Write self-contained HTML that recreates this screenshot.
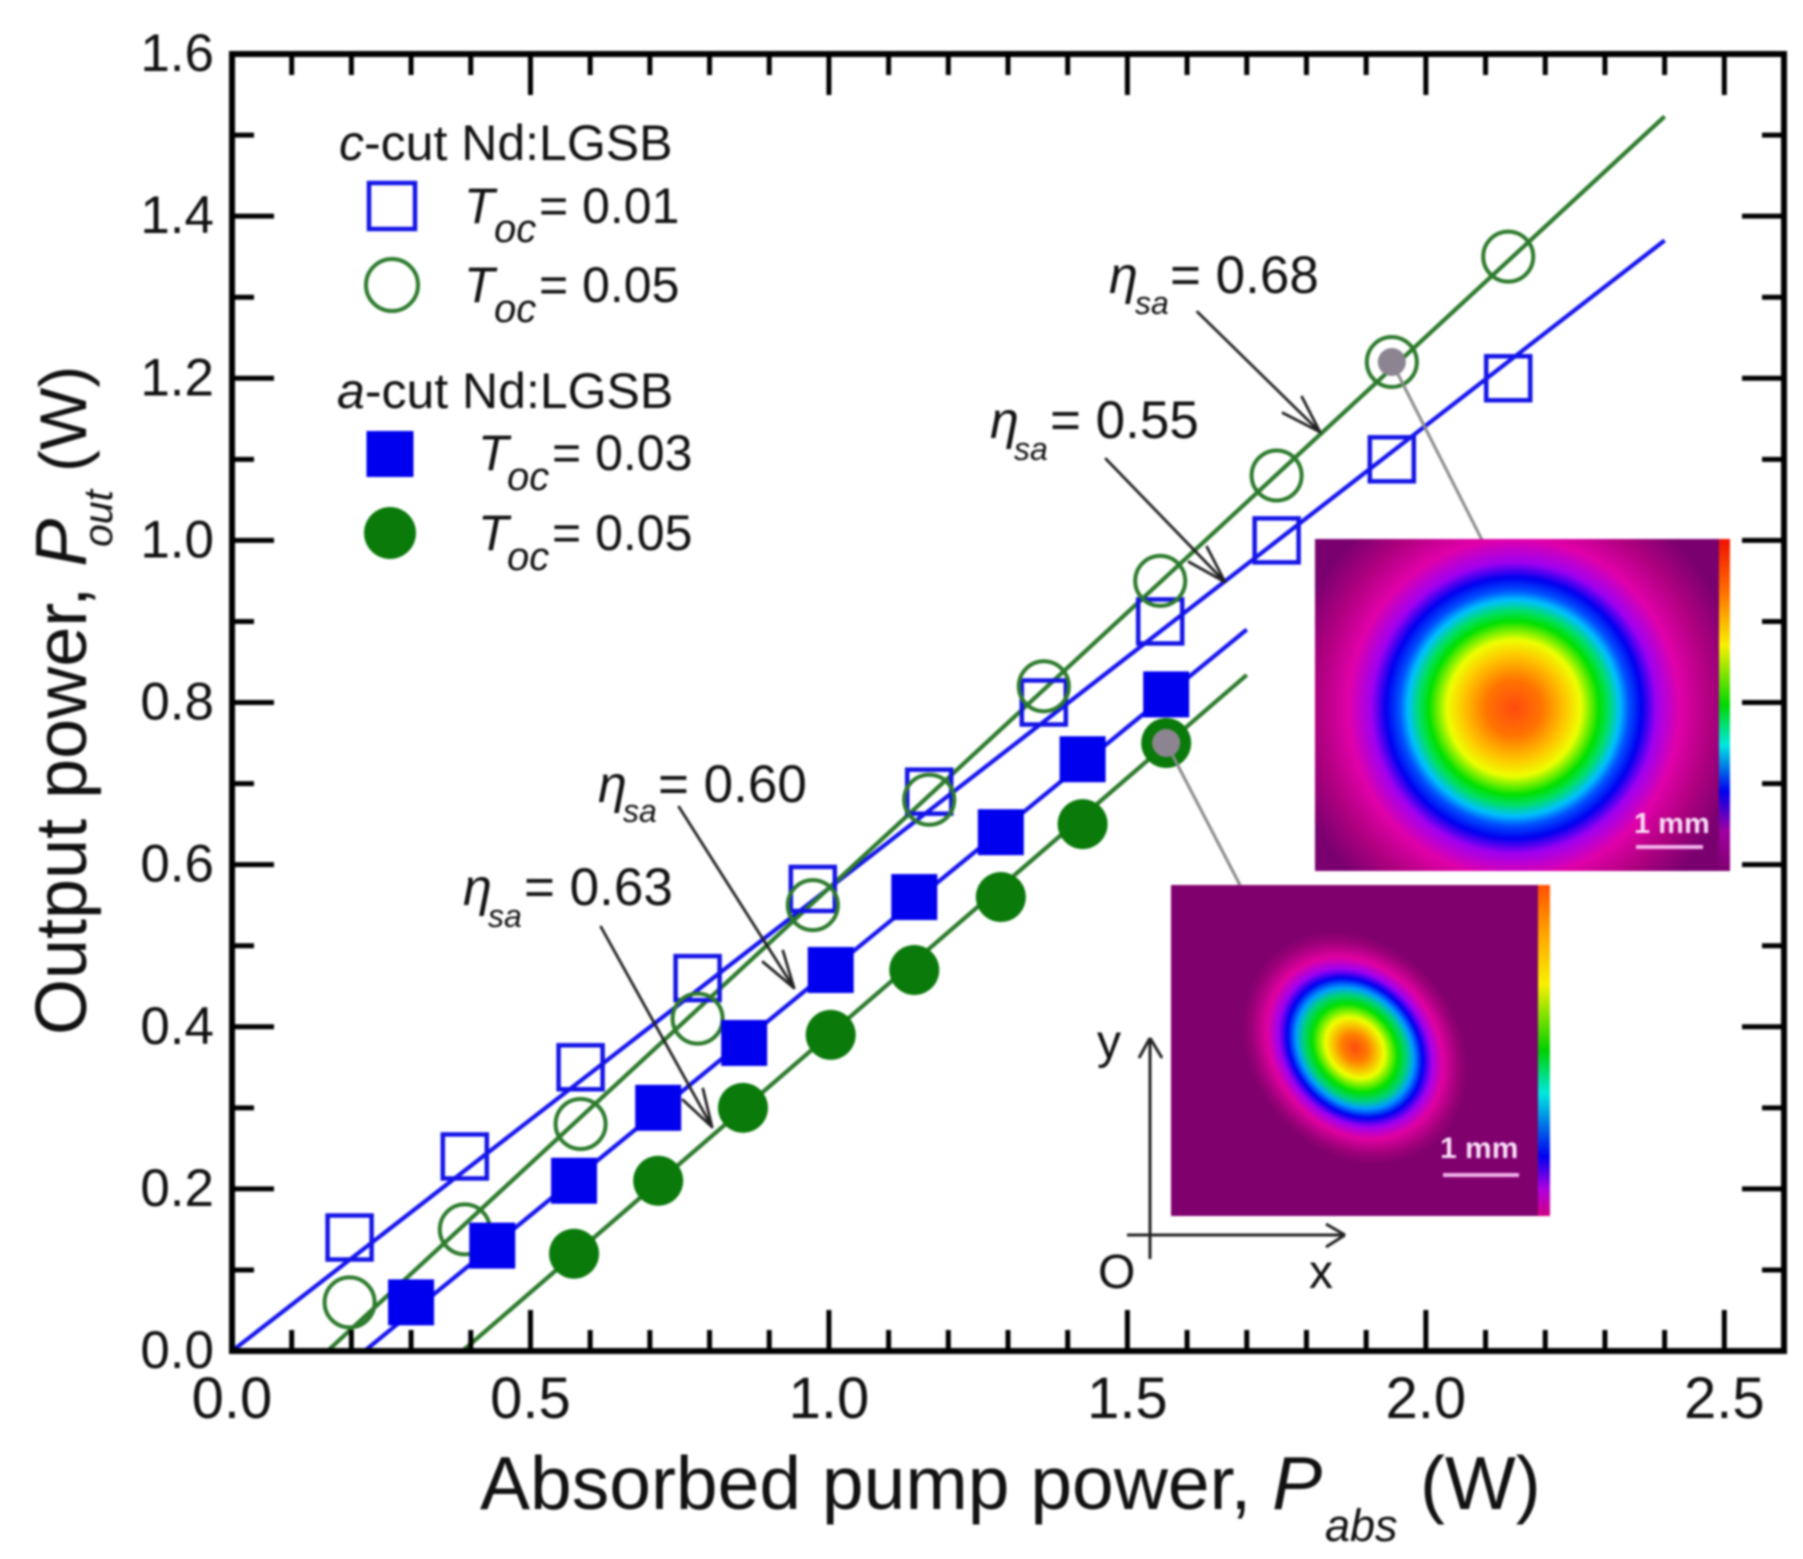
<!DOCTYPE html>
<html lang="en">
<head>
<meta charset="utf-8">
<title>Output power vs absorbed pump power</title>
<style>
html,body{margin:0;padding:0;background:#fff;}
svg{display:block;filter:blur(1px);}
text{font-family:"Liberation Sans",sans-serif;fill:#111;}
.it{font-style:italic;}
</style>
</head>
<body>
<svg id="chart" xmlns="http://www.w3.org/2000/svg" width="1803" height="1559" viewBox="0 0 1803 1559">
<defs>
<radialGradient id="beam-large" gradientUnits="userSpaceOnUse" cx="0" cy="0" r="1" gradientTransform="translate(1514 708) scale(230 235)">
<stop offset="0" stop-color="#ff4a10"/><stop offset="0.12" stop-color="#ff7400"/><stop offset="0.22" stop-color="#ffc400"/><stop offset="0.29" stop-color="#eeff00"/><stop offset="0.37" stop-color="#00e000"/><stop offset="0.41" stop-color="#00e060"/><stop offset="0.46" stop-color="#00c0ff"/><stop offset="0.50" stop-color="#0050ff"/><stop offset="0.555" stop-color="#0000f0"/><stop offset="0.62" stop-color="#a000f0"/><stop offset="0.72" stop-color="#e000a8"/><stop offset="0.85" stop-color="#b00080"/><stop offset="1" stop-color="#7a0070"/>
</radialGradient>
<radialGradient id="beam-small" gradientUnits="userSpaceOnUse" cx="0" cy="0" r="1" gradientTransform="translate(1355 1048) rotate(50) scale(125 103)">
<stop offset="0" stop-color="#ff4a10"/><stop offset="0.12" stop-color="#ff8000"/><stop offset="0.26" stop-color="#f0ff00"/><stop offset="0.38" stop-color="#00e000"/><stop offset="0.46" stop-color="#00d080"/><stop offset="0.52" stop-color="#00a0ff"/><stop offset="0.60" stop-color="#0000f0"/><stop offset="0.68" stop-color="#a000f0"/><stop offset="0.78" stop-color="#e000a0"/><stop offset="0.92" stop-color="#9a0078"/><stop offset="1" stop-color="#80006e"/>
</radialGradient>
<linearGradient id="scale-large" x1="0" y1="0" x2="0" y2="1">
<stop offset="0" stop-color="#f01000"/><stop offset="0.16" stop-color="#ff7000"/><stop offset="0.32" stop-color="#f8f000"/><stop offset="0.5" stop-color="#00d800"/><stop offset="0.62" stop-color="#00e8e0"/><stop offset="0.76" stop-color="#0000f0"/><stop offset="0.88" stop-color="#a000a0"/><stop offset="1" stop-color="#800070"/>
</linearGradient>
<linearGradient id="scale-small" x1="0" y1="0" x2="0" y2="1">
<stop offset="0" stop-color="#ff5000"/><stop offset="0.14" stop-color="#ffa000"/><stop offset="0.3" stop-color="#f8f000"/><stop offset="0.5" stop-color="#00d000"/><stop offset="0.63" stop-color="#00e8e0"/><stop offset="0.82" stop-color="#0000f0"/><stop offset="0.92" stop-color="#b000e0"/><stop offset="1" stop-color="#d00080"/>
</linearGradient>
</defs>

<g id="series-layer"></g>
<g id="axes-layer"></g>

<g>
<text x="480" y="1509" font-size="75">Absorbed pump power, <tspan class="it">P</tspan></text>
<text class="it" x="1325" y="1541" font-size="45">abs</text>
<text x="1420" y="1509" font-size="75">(W)</text>
</g>
<g>
<text transform="translate(86 1035) rotate(-90)" font-size="72">Output power, <tspan class="it">P</tspan></text>
<text class="it" transform="translate(112 547) rotate(-90)" font-size="41">out</text>
<text transform="translate(86 472) rotate(-90)" font-size="66">(W)</text>
</g>

<g>
<text x="339" y="160" font-size="50"><tspan class="it">c</tspan>-cut Nd:LGSB</text>
<rect x="369" y="183" width="46" height="46" fill="none" stroke="#1414e6" stroke-width="4.5"/>
<text y="223" font-size="50"><tspan class="it" x="464">T</tspan><tspan class="it" x="494" y="242" font-size="40">oc</tspan><tspan x="539" y="223">= 0.01</tspan></text>
<circle cx="392" cy="285" r="26" fill="none" stroke="#2c7a2c" stroke-width="4"/>
<text y="302" font-size="50"><tspan class="it" x="464">T</tspan><tspan class="it" x="494" y="322" font-size="40">oc</tspan><tspan x="539" y="302">= 0.05</tspan></text>
<text x="337" y="408" font-size="50"><tspan class="it">a</tspan>-cut Nd:LGSB</text>
<rect x="366.500" y="431" width="47" height="46" fill="#0000ee"/>
<text y="470" font-size="50"><tspan class="it" x="478">T</tspan><tspan class="it" x="507" y="490" font-size="40">oc</tspan><tspan x="552" y="470">= 0.03</tspan></text>
<circle cx="390" cy="533" r="26" fill="#0a7a0a"/>
<text y="550" font-size="50"><tspan class="it" x="478">T</tspan><tspan class="it" x="507" y="570" font-size="40">oc</tspan><tspan x="552" y="550">= 0.05</tspan></text>
</g>

<g stroke-linecap="round">
<g>
<text class="it" x="1109" y="293" font-size="52">η</text><text class="it" x="1135" y="314" font-size="32">sa</text><text x="1170" y="293" font-size="53">= 0.68</text>
<path d="M1197.500 312L1320 432M1320 432L1302 397M1320 432L1283 413" fill="none" stroke="#222" stroke-width="2.800"/>
</g>
<g>
<text class="it" x="990" y="438" font-size="52">η</text><text class="it" x="1014" y="460" font-size="32">sa</text><text x="1050" y="438" font-size="53">= 0.55</text>
<path d="M1106 459L1225 582M1225 582L1207 547M1225 582L1189 562" fill="none" stroke="#222" stroke-width="2.800"/>
</g>
<g>
<text class="it" x="598" y="802" font-size="52">η</text><text class="it" x="623" y="822" font-size="32">sa</text><text x="658" y="802" font-size="53">= 0.60</text>
<path d="M679 807L794 988M794 988L783 951M794 988L763 962" fill="none" stroke="#222" stroke-width="2.800"/>
</g>
<g>
<text class="it" x="463" y="905" font-size="52">η</text><text class="it" x="488" y="927" font-size="32">sa</text><text x="524" y="905" font-size="53">= 0.63</text>
<path d="M601 927L712 1127M712 1127L703 1089M712 1127L683 1100" fill="none" stroke="#222" stroke-width="2.800"/>
</g>
</g>

<g>
<rect x="1315" y="539" width="415" height="332" fill="url(#beam-large)"/>
<rect x="1719" y="539" width="11" height="332" fill="url(#scale-large)"/>
<text x="1634" y="833" font-size="29" font-weight="bold" style="fill:#f8dcf4">1 mm</text>
<rect x="1636" y="845" width="67" height="4" fill="#f4b4ec"/>
</g>
<g>
<rect x="1171" y="885" width="379" height="331" fill="url(#beam-small)"/>
<rect x="1538" y="885" width="12" height="331" fill="url(#scale-small)"/>
<text x="1440" y="1158" font-size="30" font-weight="bold" style="fill:#f8dcf4">1 mm</text>
<rect x="1443" y="1173" width="76" height="4" fill="#f0b0e8"/>
</g>

<g fill="none" stroke="#222" stroke-width="3">
<path d="M1150 1259V1038M1150 1038L1139 1058M1150 1038L1162 1058"/>
<path d="M1127 1235H1345M1345 1235L1326 1224M1345 1235L1326 1247"/>
</g>
<text x="1098" y="1288" font-size="48">O</text>
<text x="1097" y="1058" font-size="48">y</text>
<text x="1309" y="1288" font-size="48">x</text>

<script>
const xTickLabels = ["0.0","0.5","1.0","1.5","2.0","2.5"];
const yTickLabels = ["0.0","0.2","0.4","0.6","0.8","1.0","1.2","1.4","1.6"];

const cCut01X = [0.197,0.39,0.584,0.78,0.973,1.168,1.36,1.555,1.75,1.943,2.138];
const cCut01Y = [0.14,0.24,0.35,0.46,0.57,0.69,0.80,0.90,1.00,1.10,1.20];
const cCut05X = [0.197,0.39,0.584,0.78,0.973,1.168,1.36,1.555,1.75,1.943,2.138];
const cCut05Y = [0.06,0.15,0.28,0.41,0.55,0.68,0.82,0.95,1.08,1.22,1.35];
const aCut03X = [0.30,0.436,0.573,0.714,0.858,1.003,1.143,1.288,1.425,1.565];
const aCut03Y = [0.06,0.13,0.21,0.30,0.38,0.47,0.56,0.64,0.73,0.81];
const aCut05X = [0.573,0.714,0.856,1.003,1.143,1.288,1.425,1.565];
const aCut05Y = [0.12,0.21,0.30,0.39,0.47,0.56,0.65,0.75];

const cCut01FitX = [0,2.4];
const cCut01FitY = [0,1.37];
const cCut05FitX = [0.16,2.4];
const cCut05FitY = [0,1.523];
const aCut03FitX = [0.222,1.70];
const aCut03FitY = [0,0.89];
const aCut05FitX = [0.386,1.70];
const aCut05FitY = [0,0.834];

const NS = "http://www.w3.org/2000/svg";
const plotLeft = 232, plotRight = 1784, plotTop = 54, plotBottom = 1351;
const xMax = 2.6, yMax = 1.6;
function xAxis(v){ return plotLeft + v / xMax * (plotRight - plotLeft); }
function yAxis(v){ return plotBottom - v / yMax * (plotBottom - plotTop); }
function make(tag, attrs, parent){
  const el = document.createElementNS(NS, tag);
  for (const k in attrs) el.setAttribute(k, attrs[k]);
  parent.appendChild(el);
  return el;
}
const series = document.getElementById("series-layer");
const axes = document.getElementById("axes-layer");

function drawFit(xs, ys, color, name){
  const el = make("line", {x1:xAxis(xs[0]), y1:yAxis(ys[0]), x2:xAxis(xs[1]), y2:yAxis(ys[1]), stroke:color, "stroke-width":4.2}, series);
  
  
}
function drawSquares(xs, ys, size, fill, stroke, sw, name){
  xs.forEach(function(v, i){
    const el = make("rect", {x:xAxis(v)-size/2, y:yAxis(ys[i])-size/2, width:size, height:size, fill:fill, stroke:stroke, "stroke-width":sw}, series);
    
    
  });
}
function drawCircles(xs, ys, r, fill, stroke, sw, name){
  xs.forEach(function(v, i){
    const el = make("circle", {cx:xAxis(v), cy:yAxis(ys[i]), r:r, fill:fill, stroke:stroke, "stroke-width":sw}, series);
    
    
  });
}
function drawSpot(xs, ys, ex, ey, r, name){
  const last = xs.length;
  const i = name === 'spot-c-cut' ? last - 2 : last - 1;
  const leader = make("line", {x1:xAxis(xs[i]), y1:yAxis(ys[i]), x2:ex, y2:ey, stroke:"#8a8a8a", "stroke-width":3}, series);
  
  
  const dot = make("circle", {cx:xAxis(xs[i]), cy:yAxis(ys[i]), r:r, fill:"#8c8490"}, series);
  
  
}

drawFit(cCut01FitX, cCut01FitY, "#1414ee", "fit-line-c-cut-001");
drawFit(cCut05FitX, cCut05FitY, "#2c7a2c", "fit-line-c-cut-005");
drawFit(aCut03FitX, aCut03FitY, "#1414ee", "fit-line-a-cut-003");
drawFit(aCut05FitX, aCut05FitY, "#2c7a2c", "fit-line-a-cut-005");
drawSquares(cCut01X, cCut01Y, 44, "none", "#1414e6", 4.5, "point-c-cut-001");
drawCircles(cCut05X, cCut05Y, 25, "none", "#2c7a2c", 4, "point-c-cut-005");
drawSquares(aCut03X, aCut03Y, 46, "#0000ee", "none", 0, "point-a-cut-003");
drawCircles(aCut05X, aCut05Y, 25, "#0a7a0a", "none", 0, "point-a-cut-005");
drawSpot(cCut05X, cCut05Y, 1482, 540, 14, "spot-c-cut");
drawSpot(aCut05X, aCut05Y, 1240, 885, 14, "spot-a-cut");

function tick(x1, y1, x2, y2, w, name){
  const el = make("line", {x1:x1, y1:y1, x2:x2, y2:y2, stroke:"#000", "stroke-width":w}, axes);
  
  
}
const frame = make("rect", {x:plotLeft, y:plotTop, width:plotRight-plotLeft, height:plotBottom-plotTop, fill:"none", stroke:"#000", "stroke-width":6}, axes);



xTickLabels.forEach(function(label, i){
  const v = parseFloat(label);
  const px = xAxis(v);
  if (i > 0) {
    tick(px, plotBottom, px, plotBottom-41, 5, 'x-major-tick');
    tick(px, plotTop, px, plotTop+41, 5, 'x-major-tick-top');
  }
  const t = make("text", {x:px, y:1418, "font-size":58, "text-anchor":"middle"}, axes);
  t.textContent = label;
  
  
  for (let k = 1; k <= 4; k++) {
    const mv = v + k * 0.1;
    if (mv < xMax) {
      tick(xAxis(mv), plotBottom, xAxis(mv), plotBottom-21, 5, 'x-minor-tick');
      tick(xAxis(mv), plotTop, xAxis(mv), plotTop+21, 5, 'x-minor-tick-top');
    }
  }
});
yTickLabels.forEach(function(label, i){
  const v = parseFloat(label);
  const py = yAxis(v);
  if (i > 0 && i < yTickLabels.length - 1) {
    tick(plotLeft, py, plotLeft+42, py, 5, 'y-major-tick');
    tick(plotRight, py, plotRight-42, py, 5, 'y-major-tick-right');
  }
  const t = make("text", {x:214, y:py+17, "font-size":53, "text-anchor":"end"}, axes);
  t.textContent = label;
  
  
  if (i < yTickLabels.length - 1) {
    const my = yAxis(v + 0.1);
    tick(plotLeft, my, plotLeft+22, my, 5, 'y-minor-tick');
    tick(plotRight, my, plotRight-22, my, 5, 'y-minor-tick-right');
  }
});
</script>
</svg>
</body>
</html>
